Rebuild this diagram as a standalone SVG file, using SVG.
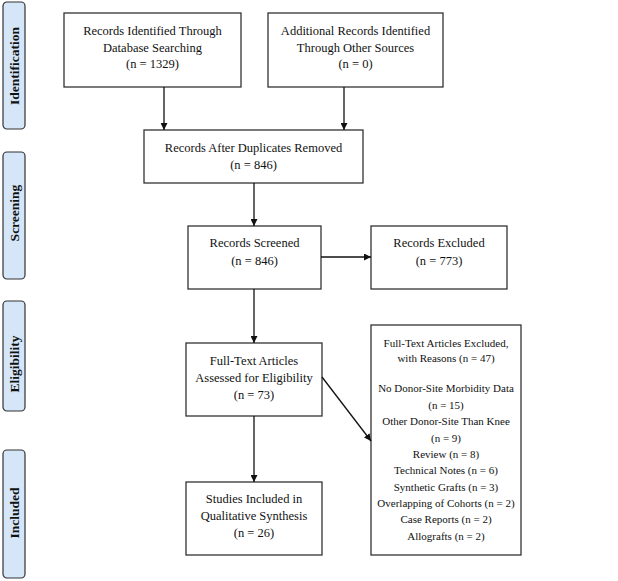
<svg xmlns="http://www.w3.org/2000/svg" width="618" height="581" viewBox="0 0 618 581">
<style>
.box{fill:#fff;stroke:#333;stroke-width:1.3}
.lab{fill:#d5e6f8;stroke:#333;stroke-width:1.2}
.t{font-family:"Liberation Serif","Times New Roman",serif;font-size:12.5px;fill:#111;text-anchor:middle}
.s{font-family:"Liberation Serif","Times New Roman",serif;font-size:11px;fill:#111;text-anchor:middle}
.lt{font-family:"Liberation Serif","Times New Roman",serif;font-size:13.5px;font-weight:bold;fill:#111;text-anchor:middle;dominant-baseline:central}
.c{stroke:#111;stroke-width:1.3;fill:none;marker-end:url(#ah)}
</style>
<defs>
<marker id="ah" viewBox="0 0 10 10" refX="10" refY="5" markerWidth="7" markerHeight="7" markerUnits="userSpaceOnUse" orient="auto">
<path d="M0,0 L10,5 L0,10 z" fill="#111"/>
</marker>
</defs>
<rect width="618" height="581" fill="#fff"/>
<g id="label-identification"><rect class="lab" x="3" y="2" width="22" height="127" rx="4"/><text class="lt" transform="translate(14,66) rotate(-90)">Identification</text></g>
<g id="label-screening"><rect class="lab" x="3" y="152" width="22" height="127" rx="4"/><text class="lt" transform="translate(14,213) rotate(-90)">Screening</text></g>
<g id="label-eligibility"><rect class="lab" x="3" y="301" width="22" height="110" rx="4"/><text class="lt" transform="translate(14,364) rotate(-90)">Eligibility</text></g>
<g id="label-included"><rect class="lab" x="3" y="450" width="22" height="128" rx="4"/><text class="lt" transform="translate(14,513) rotate(-90)">Included</text></g>
<g id="n1"><rect class="box" x="64" y="13" width="177" height="74"/>
<text class="t" x="152.5" y="35">Records Identified Through</text>
<text class="t" x="152.5" y="51.5">Database Searching</text>
<text class="t" x="152.5" y="68">(n = 1329)</text></g>
<g id="n2"><rect class="box" x="268" y="13" width="175" height="74"/>
<text class="t" x="355.5" y="35">Additional Records Identified</text>
<text class="t" x="355.5" y="51.5">Through Other Sources</text>
<text class="t" x="355.5" y="68">(n = 0)</text></g>
<g id="n3"><rect class="box" x="144" y="130" width="219" height="53"/>
<text class="t" x="253.5" y="152">Records After Duplicates Removed</text>
<text class="t" x="253.5" y="169">(n = 846)</text></g>
<g id="n4"><rect class="box" x="188" y="226" width="133" height="63"/>
<text class="t" x="254.5" y="247">Records Screened</text>
<text class="t" x="254.5" y="265">(n = 846)</text></g>
<g id="n5"><rect class="box" x="371" y="226" width="136" height="63"/>
<text class="t" x="439" y="247">Records Excluded</text>
<text class="t" x="439" y="265">(n = 773)</text></g>
<g id="n6"><rect class="box" x="186" y="343" width="136" height="73"/>
<text class="t" x="254" y="365">Full-Text Articles</text>
<text class="t" x="254" y="382">Assessed for Eligibility</text>
<text class="t" x="254" y="398.5">(n = 73)</text></g>
<g id="n7"><rect class="box" x="371" y="325" width="150" height="230"/>
<text class="s" x="446" y="347">Full-Text Articles Excluded,</text>
<text class="s" x="446" y="362">with Reasons (n = 47)</text>
<text class="s" x="446" y="392">No Donor-Site Morbidity Data</text>
<text class="s" x="446" y="408.5">(n = 15)</text>
<text class="s" x="446" y="425">Other Donor-Site Than Knee</text>
<text class="s" x="446" y="441.5">(n = 9)</text>
<text class="s" x="446" y="457.5">Review (n = 8)</text>
<text class="s" x="446" y="474">Technical Notes (n = 6)</text>
<text class="s" x="446" y="490.5">Synthetic Grafts (n = 3)</text>
<text class="s" x="446" y="507">Overlapping of Cohorts (n = 2)</text>
<text class="s" x="446" y="523">Case Reports (n = 2)</text>
<text class="s" x="446" y="539.5">Allografts (n = 2)</text></g>
<g id="n8"><rect class="box" x="186" y="482" width="136" height="73"/>
<text class="t" x="254" y="503">Studies Included in</text>
<text class="t" x="254" y="520">Qualitative Synthesis</text>
<text class="t" x="254" y="537">(n = 26)</text></g>
<g id="connectors">
<line class="c" x1="164" y1="87" x2="164" y2="130"/>
<line class="c" x1="344" y1="87" x2="344" y2="130"/>
<line class="c" x1="254" y1="183" x2="254" y2="226"/>
<line class="c" x1="321" y1="257" x2="371" y2="257"/>
<line class="c" x1="254" y1="289" x2="254" y2="343"/>
<line class="c" x1="322" y1="377" x2="371" y2="441"/>
<line class="c" x1="254" y1="416" x2="254" y2="482"/>
</g>
</svg>
